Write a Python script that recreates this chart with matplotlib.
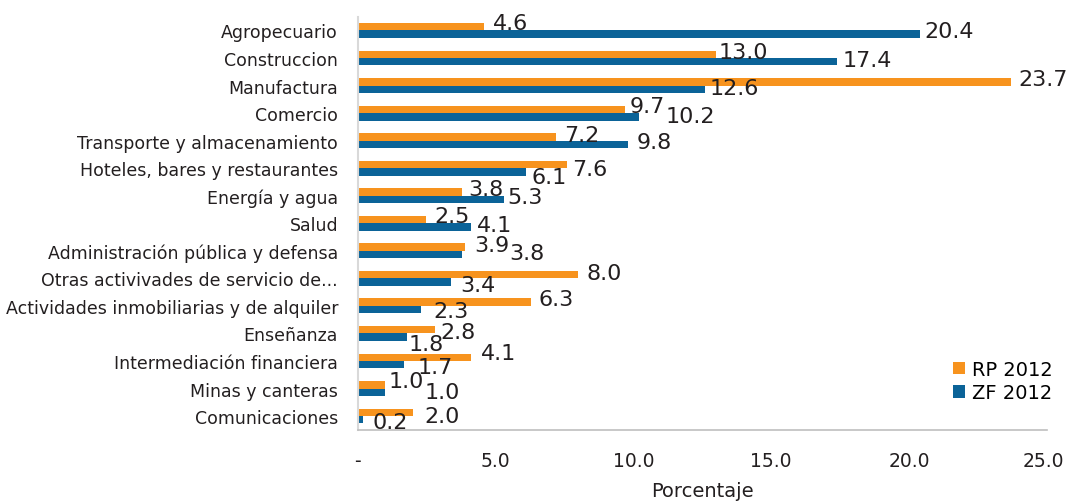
import numpy as np
import matplotlib; matplotlib.use("Agg")
import matplotlib.pyplot as plt
from matplotlib.transforms import offset_copy

categories = ["Agropecuario", "Construccion", "Manufactura", "Comercio",
              "Transporte y almacenamiento", "Hoteles, bares y restaurantes",
              "Energía y agua", "Salud", "Administración pública y defensa",
              "Otras activivades de servicio de...",
              "Actividades inmobiliarias y de alquiler", "Enseñanza",
              "Intermediación financiera", "Minas y canteras", "Comunicaciones"]
rp_2012 = [4.6, 13.0, 23.7, 9.7, 7.2, 7.6, 3.8, 2.5, 3.9, 8.0, 6.3, 2.8, 4.1, 1.0, 2.0]
zf_2012 = [20.4, 17.4, 12.6, 10.2, 9.8, 6.1, 5.3, 4.1, 3.8, 3.4, 2.3, 1.8, 1.7, 1.0, 0.2]
xticks = [0, 5, 10, 15, 20, 25]
xtick_labels = ["-", "5.0", "10.0", "15.0", "20.0", "25.0"]

# hand-placed value labels in the original: (right, down) nudge in pixels
rp_nudge = [(9, -5.5), (3, -4.5), (7, -4.5), (5, -5.5), (8, -4), (5, 3), (6, -5.5),
            (8, -6), (9, -4), (8, -4), (7, -5), (6, 0), (10, -6), (3, -5.5), (12, 2)]
zf_nudge = [(4, -5), (5, -4), (5, -3), (27, -3), (9, -4.5), (6, 3), (4, -4.5),
            (6, -4), (47, -4), (9, 1), (12, -1), (1, 4.5), (13, 0), (39, -2), (9, 0)]

ORANGE, BLUE, TXT = "#F7931E", "#0B6398", "#231F20"

fig = plt.figure(figsize=(10.67, 5.02), dpi=100)
ax = fig.add_axes([0.3351, 0.1418, 0.646, 0.8229])

y = np.arange(len(categories))
h = 0.27
ax.barh(y - h / 2, rp_2012, height=h, color=ORANGE, label="RP 2012")
ax.barh(y + h / 2, zf_2012, height=h, color=BLUE, label="ZF 2012")

CAP = 16  # digit height in px
for vals, off, nudge in ((rp_2012, -h / 2, rp_nudge), (zf_2012, h / 2, zf_nudge)):
    for yi, v, (dx, dy) in zip(y, vals, nudge):
        ax.annotate(f"{v:.1f}", xy=(v, yi + off), xytext=(dx, -(dy + CAP / 2)),
                    textcoords="offset pixels", ha="left", va="baseline",
                    fontsize=16, color=TXT, annotation_clip=False)

ax.set_ylim(len(categories) - 0.5, -0.5)
ax.set_xlim(0, 25)
ax.set_yticks(y, categories, fontsize=12.5, color=TXT)
ax.set_xticks(xticks, xtick_labels, fontsize=13.5, color=TXT)
ax.tick_params(length=0)
ax.tick_params(axis="x", pad=15)
ax.tick_params(axis="y", pad=14)
ax.set_xlabel("Porcentaje", fontsize=14, color=TXT, labelpad=8)
# keep the last tick label inside the canvas, as in the original
last = ax.get_xticklabels()[-1]
last.set_transform(offset_copy(last.get_transform(), fig=fig, x=-3, y=0, units="dots"))
for s in ("top", "right"):
    ax.spines[s].set_visible(False)
ax.spines["left"].set_color("#d9d9d9")
ax.spines["left"].set_linewidth(1.5)
ax.spines["bottom"].set_color("#bfbfbf")
ax.spines["bottom"].set_linewidth(1.2)

fig.legend(loc="center left", bbox_to_anchor=(953 / 1067, 1 - 382 / 502),
           frameon=False, fontsize=14, handlelength=0.62, handleheight=0.62,
           handletextpad=0.35, labelspacing=0.22, borderpad=0, borderaxespad=0)

fig.savefig("out.png", dpi=100)
